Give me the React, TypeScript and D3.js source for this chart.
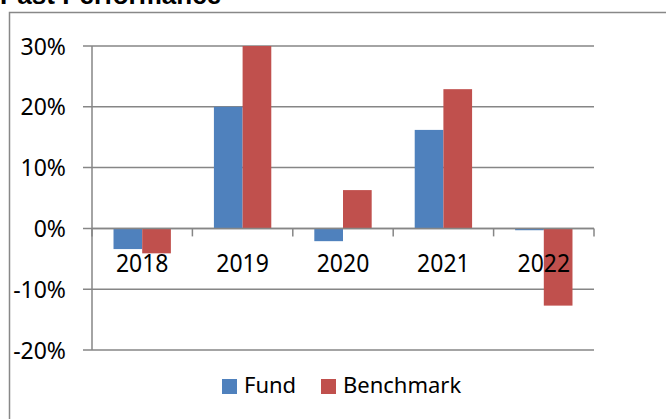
import { useEffect, useRef } from "react";
import * as d3 from "d3";

const years = ["2018", "2019", "2020", "2021", "2022"];
const fund = [-3.4, 20.0, -2.1, 16.2, -0.3];
const benchmark = [-4.1, 30.0, 6.3, 22.9, -12.7];
const yTicks = [30, 20, 10, 0, -10, -20];
const seriesNames = ["Fund", "Benchmark"];
const seriesColors = ["#4f81bd", "#c0504d"];

const W = 666;
const H = 419;

const App = () => {
    const svgRef = useRef(null);

    useEffect(() => {
        document.body.style.margin = "0";
        const svg = d3.select(svgRef.current);
        svg.selectAll("*").remove();

        const font = "'Noto Sans', sans-serif";
        const left = 92, right = 594, top = 46, bottom = 350;

        // chart frame (runs off the page on the right and bottom)
        svg.append("rect")
            .attr("x", 9.5).attr("y", 12.5)
            .attr("width", W + 20).attr("height", H + 20)
            .attr("fill", "white").attr("stroke", "#888").attr("stroke-width", 1.5);

        svg.append("text")
            .attr("x", 0).attr("y", 4)
            .text("Past Performance")
            .style("font-family", "'Liberation Sans', Arial, sans-serif")
            .style("font-weight", "bold")
            .style("font-size", "26px");

        const x = d3.scaleBand().domain(years).range([left, right]).paddingInner(0).paddingOuter(0);
        const inner = d3.scaleBand().domain(seriesNames).range([0, x.bandwidth()]).paddingInner(0).paddingOuter(0.75);
        const y = d3.scaleLinear().domain([-20, 30]).range([bottom, top]);

        // gridlines + y labels
        const grid = svg.append("g");
        yTicks.forEach(t => {
            grid.append("line")
                .attr("x1", left - 9).attr("x2", right)
                .attr("y1", y(t)).attr("y2", y(t))
                .attr("stroke", "#868686").attr("stroke-width", 1.5);
            grid.append("text")
                .attr("x", 66).attr("y", y(t) + 8.5)
                .attr("text-anchor", "end")
                .text(`${t}%`)
                .style("font-family", font)
                .style("font-size", "23px");
        });

        // y axis line
        svg.append("line")
            .attr("x1", left).attr("x2", left)
            .attr("y1", top).attr("y2", bottom)
            .attr("stroke", "#868686").attr("stroke-width", 1.5);

        // bars
        const data = years.map((yr, i) => ({ yr, vals: [fund[i], benchmark[i]] }));
        svg.append("g")
            .selectAll("g")
            .data(data)
            .join("g")
            .attr("transform", d => `translate(${x(d.yr)},0)`)
            .each(function (d) {
                d3.select(this)
                    .selectAll("rect")
                    .data(d.vals)
                    .join("rect")
                    .attr("x", (v, j) => inner(seriesNames[j]))
                    .attr("width", inner.bandwidth())
                    .attr("y", v => Math.min(y(v), y(0)))
                    .attr("height", v => Math.abs(y(v) - y(0)))
                    .attr("fill", (v, j) => seriesColors[j]);
            });

        // category axis at zero
        const zeroY = y(0);
        svg.append("line")
            .attr("x1", left).attr("x2", right)
            .attr("y1", zeroY).attr("y2", zeroY)
            .attr("stroke", "#868686").attr("stroke-width", 1.5);
        const tickXs = years.map(yr => x(yr)).concat([right]);
        tickXs.forEach(tx => {
            svg.append("line")
                .attr("x1", tx).attr("x2", tx)
                .attr("y1", zeroY).attr("y2", zeroY + 8)
                .attr("stroke", "#868686").attr("stroke-width", 1.5);
        });
        years.forEach(yr => {
            const cx = x(yr) + x.bandwidth() / 2;
            svg.append("text")
                .attr("transform", `translate(${cx},272) scale(1,1.12)`)
                .attr("text-anchor", "middle")
                .text(yr)
                .style("font-family", font)
                .style("font-size", "23px");
        });

        // legend
        const legendItems = [
            { name: "Fund", sx: 222, tx: 244 },
            { name: "Benchmark", sx: 321, tx: 343 },
        ];
        legendItems.forEach((it, i) => {
            svg.append("rect")
                .attr("x", it.sx).attr("y", 379)
                .attr("width", 15).attr("height", 15)
                .attr("fill", seriesColors[i]);
            svg.append("text")
                .attr("x", it.tx).attr("y", 393)
                .text(it.name)
                .style("font-family", font)
                .style("font-size", "22px");
        });
    }, []);

    return <svg ref={svgRef} width={W} height={H} style={{ display: "block" }}></svg>;
};

export default App;
